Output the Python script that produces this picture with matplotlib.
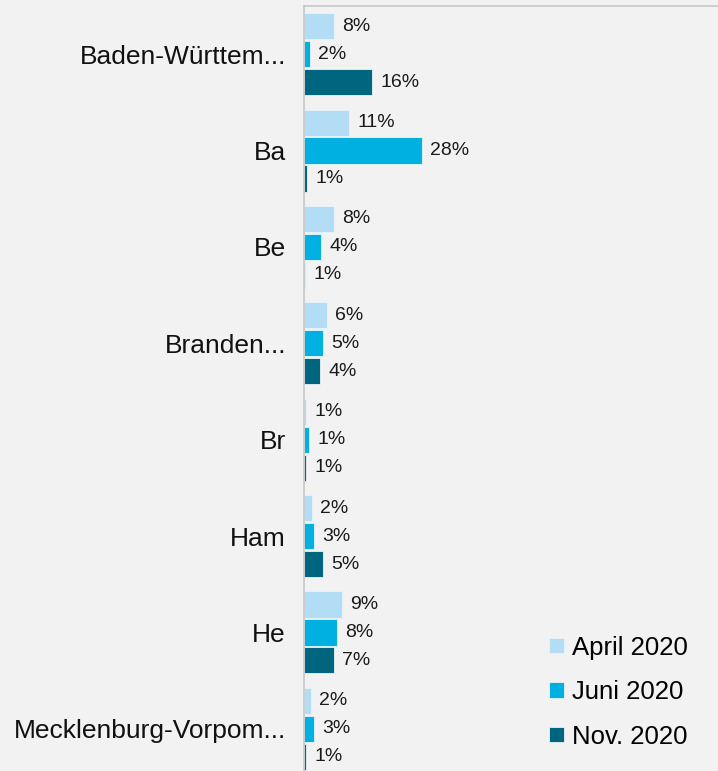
import numpy as np
import matplotlib.pyplot as plt

plt.rcParams['font.family'] = ['Liberation Sans', 'DejaVu Sans']

# Data
states = ["Baden-Württem...", "Ba", "Be", "Branden...", "Br", "Ham", "He",
          "Mecklenburg-Vorpom..."]
series = ["April 2020", "Juni 2020", "Nov. 2020"]
april = [7.1, 10.7, 7.1, 5.5, 0.4, 1.9, 9.0, 1.7]
juni = [1.4, 28.0, 4.0, 4.5, 1.2, 2.4, 7.9, 2.4]
nov = [16.2, 0.7, 0.3, 3.8, 0.5, 4.5, 7.1, 0.5]
april_lbl = ["8%", "11%", "8%", "6%", "1%", "2%", "9%", "2%"]
juni_lbl = ["2%", "28%", "4%", "5%", "1%", "3%", "8%", "3%"]
nov_lbl = ["16%", "1%", "1%", "4%", "1%", "5%", "7%", "1%"]
colors = ["#b3ddf5", "#00b0e0", "#006680"]

bg = "#f2f2f2"
fig = plt.figure(figsize=(7.18, 7.71), dpi=100, facecolor=bg)
# axes runs from y=6px to slightly below the figure bottom
ax = fig.add_axes([304 / 718, -6 / 771, 414 / 718, 771 / 771], facecolor=bg)

y = np.arange(len(states))
bar_h = 0.272
step = 0.29
for i, (vals, lbls) in enumerate([(april, april_lbl), (juni, juni_lbl), (nov, nov_lbl)]):
    pos = y + (i - 1) * step
    ax.barh(pos, vals, height=bar_h, color=colors[i], edgecolor="#e8f4fa",
            linewidth=0.6, label=series[i])
    for p, v, t in zip(pos, vals, lbls):
        ax.annotate(t, (v, p), xytext=(6, 0), textcoords="offset points",
                    va="center", ha="left", fontsize=14, color="#1a1a1a")

ax.set_xlim(0, 98.6)
ax.set_ylim(len(states) - 0.5, -0.5)
ax.set_yticks(y)
ax.set_yticklabels(states, fontsize=19, color="#111111")
ax.tick_params(axis="y", length=0, pad=13)
ax.set_xticks([])

for s in ["right", "bottom"]:
    ax.spines[s].set_visible(False)
for s in ["left", "top"]:
    ax.spines[s].set_color("#c6c6c6")
    ax.spines[s].set_linewidth(1.2)

ax.legend(loc="lower right", bbox_to_anchor=(698 / 718, 12 / 771),
          bbox_transform=fig.transFigure, frameon=False, borderaxespad=0,
          fontsize=18.5, handlelength=0.55, handleheight=0.55, handletextpad=0.32,
          labelspacing=0.8)

plt.savefig("out.png", dpi=100, facecolor=bg)
